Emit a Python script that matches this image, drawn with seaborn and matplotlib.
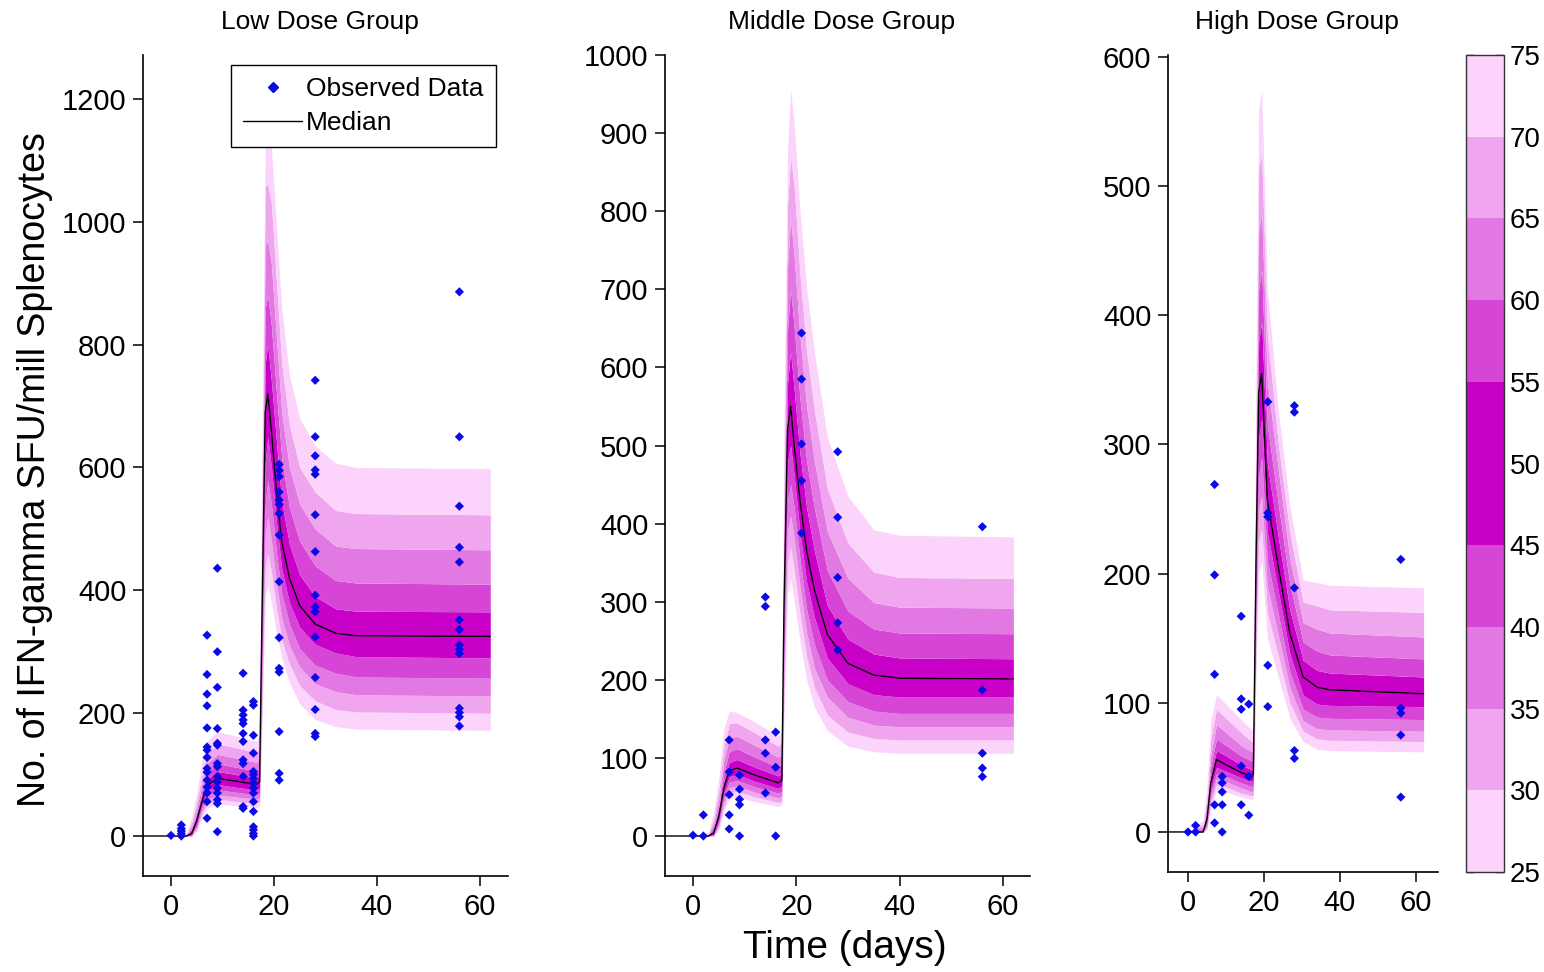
import numpy as np
import pandas as pd
import matplotlib
matplotlib.use("Agg")
import matplotlib.pyplot as plt
import seaborn as sns
from matplotlib.colors import ListedColormap, BoundaryNorm
from matplotlib.lines import Line2D
from matplotlib.colorbar import ColorbarBase

sns.set_style("ticks")
plt.rcParams['font.family'] = ['Liberation Sans', 'DejaVu Sans']
for key in ['text.color', 'axes.labelcolor', 'xtick.color', 'ytick.color', 'axes.edgecolor']:
    plt.rcParams[key] = 'black'

# ---------------- data ----------------
# columns: percentile edges 25,30,35,40,45,50(median),55,60,65,70,75
edge_levels = [25, 30, 35, 40, 45, 50, 55, 60, 65, 70, 75]
band_colors = ['#FBD3FB', '#EFA6EF', '#E279E2', '#D645D6', '#C800C8',
               '#C800C8', '#D645D6', '#E279E2', '#EFA6EF', '#FBD3FB']

low_t = [-6, 0, 3, 4, 5, 6, 7, 9, 12, 16.6, 17.2, 17.6, 18.3, 18.8, 19.5,
         20.5, 21.5, 23, 25, 28, 32, 36, 62]
low_edges = [
    [0, 0, 0, 0, 0, 0, 0, 0, 0, 0, 0],
    [0, 0, 0, 0, 0, 0, 0, 0, 0, 0, 0],
    [0, 0, 0, 0, 0, 0, 0, 1, 2, 3, 5],
    [0, 0, 0, 1, 2, 4, 7, 11, 16, 22, 30],
    [8, 11, 14, 17, 21, 25, 30, 37, 45, 56, 70],
    [30, 36, 41, 46, 51, 56, 63, 72, 84, 100, 122],
    [45, 52, 58, 65, 73, 82, 92, 104, 118, 135, 155],
    [52, 60, 67, 75, 84, 94, 105, 118, 133, 150, 170],
    [50, 57, 64, 72, 80, 90, 101, 113, 128, 145, 164],
    [46, 53, 60, 67, 75, 84, 94, 106, 120, 136, 154],
    [48, 55, 62, 70, 78, 88, 99, 112, 127, 144, 165],
    [150, 180, 210, 245, 280, 320, 360, 410, 470, 530, 600],
    [390, 440, 490, 540, 610, 690, 770, 860, 960, 1060, 1120],
    [410, 460, 520, 580, 650, 720, 800, 880, 970, 1060, 1150],
    [380, 430, 480, 540, 600, 660, 740, 830, 930, 1030, 1120],
    [330, 370, 410, 460, 510, 560, 640, 720, 810, 900, 990],
    [290, 320, 355, 395, 435, 480, 545, 615, 690, 770, 860],
    [250, 280, 310, 345, 380, 420, 475, 535, 600, 670, 750],
    [215, 245, 275, 305, 340, 375, 425, 480, 540, 600, 680],
    [190, 220, 248, 278, 312, 345, 390, 440, 500, 560, 635],
    [178, 206, 235, 265, 298, 330, 370, 416, 472, 530, 607],
    [174, 202, 230, 259, 292, 326, 366, 412, 468, 525, 600],
    [172, 200, 228, 257, 290, 325, 365, 410, 466, 523, 598],
]

mid_t = [-6, 0, 3, 4, 5, 6, 7, 8.5, 12, 16.5, 17.2, 17.6, 18.3, 18.9, 19.6,
         20.7, 22, 23.5, 26, 30, 35, 40, 62]
mid_edges = [
    [0, 0, 0, 0, 0, 0, 0, 0, 0, 0, 0],
    [0, 0, 0, 0, 0, 0, 0, 0, 0, 0, 0],
    [0, 0, 0, 0, 0, 0, 0, 1, 2, 3, 5],
    [0, 0, 0, 1, 2, 4, 7, 11, 16, 22, 30],
    [8, 11, 14, 17, 21, 25, 30, 38, 48, 60, 75],
    [32, 38, 44, 50, 56, 62, 70, 82, 97, 115, 138],
    [48, 55, 62, 69, 76, 83, 94, 108, 125, 144, 160],
    [50, 57, 64, 71, 79, 87, 98, 112, 128, 145, 158],
    [44, 50, 56, 63, 70, 78, 88, 101, 116, 132, 146],
    [38, 43, 49, 55, 61, 68, 77, 88, 101, 115, 128],
    [40, 45, 51, 57, 64, 71, 80, 92, 105, 120, 134],
    [150, 175, 200, 230, 260, 290, 325, 365, 410, 460, 520],
    [310, 350, 390, 430, 480, 520, 580, 650, 730, 810, 880],
    [330, 370, 410, 450, 500, 550, 620, 700, 790, 870, 955],
    [300, 340, 380, 420, 460, 500, 570, 650, 740, 830, 910],
    [250, 285, 320, 355, 390, 430, 490, 560, 640, 720, 800],
    [200, 230, 260, 290, 325, 365, 420, 480, 550, 620, 700],
    [165, 190, 215, 245, 280, 315, 365, 420, 480, 545, 620],
    [135, 155, 178, 200, 228, 258, 295, 340, 390, 445, 510],
    [115, 133, 152, 172, 195, 221, 252, 288, 330, 375, 435],
    [108, 125, 142, 160, 181, 206, 233, 265, 299, 338, 392],
    [106, 123, 140, 157, 178, 202, 228, 260, 293, 331, 385],
    [106, 123, 140, 157, 178, 201, 227, 259, 292, 330, 383],
]

high_t = [-6, 0, 4, 5, 6, 7.5, 10, 14, 16.8, 17.2, 17.9, 18.6, 19.4, 20.9,
          23.8, 26.8, 30.3, 34, 37.4, 62]
high_edges = [
    [0, 0, 0, 0, 0, 0, 0, 0, 0, 0, 0],
    [0, 0, 0, 0, 0, 0, 0, 0, 0, 0, 0],
    [0, 0, 0, 0, 0, 0, 1, 2, 4, 6, 9],
    [2, 3, 4, 6, 8, 10, 13, 17, 22, 28, 36],
    [18, 22, 26, 30, 34, 38, 44, 51, 60, 72, 86],
    [33, 37, 41, 45, 50, 56, 63, 72, 83, 95, 106],
    [31, 35, 39, 43, 47, 52, 59, 67, 77, 88, 99],
    [27, 30, 34, 38, 42, 46, 52, 59, 67, 77, 87],
    [25, 28, 31, 35, 39, 43, 48, 55, 62, 70, 79],
    [26, 29, 33, 37, 41, 45, 51, 58, 66, 75, 84],
    [120, 135, 150, 170, 190, 210, 235, 260, 290, 320, 350],
    [200, 225, 250, 275, 305, 340, 380, 420, 465, 515, 560],
    [210, 235, 260, 290, 320, 355, 395, 435, 480, 525, 574],
    [150, 170, 190, 210, 232, 257, 285, 315, 348, 385, 420],
    [120, 136, 152, 168, 186, 205, 228, 253, 280, 300, 325],
    [88, 100, 112, 124, 138, 154, 172, 192, 212, 232, 252],
    [70, 78, 86, 95, 106, 120, 133, 147, 162, 178, 195],
    [64, 72, 80, 89, 99, 112, 125, 140, 157, 175, 193],
    [63, 71, 79, 88, 98, 110, 123, 137, 154, 172, 191],
    [62, 70, 78, 87, 97, 107, 120, 134, 151, 170, 189],
]

# observed data: study day -> values
low_obs = {
    0: [1],
    2: [18, 12, 8, 4, 0],
    7: [327, 263, 231, 212, 176, 145, 140, 128, 110, 104, 91, 80, 70, 56, 29],
    9: [436, 300, 242, 175, 151, 148, 118, 113, 97, 88, 78, 70, 59, 53, 7],
    14: [265, 205, 197, 189, 183, 167, 154, 124, 118, 97, 48, 45],
    16: [219, 213, 164, 135, 105, 100, 94, 86, 78, 70, 56, 40, 15, 10, 4, 0],
    21: [605, 595, 585, 560, 547, 540, 525, 490, 414, 323, 273, 267, 170, 102, 91],
    28: [742, 650, 619, 596, 589, 523, 463, 392, 373, 365, 324, 258, 206, 167, 162],
    56: [886, 650, 537, 470, 446, 352, 336, 311, 304, 297, 208, 201, 194, 179],
}
mid_obs = {
    0: [1],
    2: [27, 0],
    7: [123, 82, 53, 27, 9],
    9: [78, 60, 47, 40, 0],
    14: [306, 294, 123, 106, 55],
    16: [133, 88, 0],
    21: [644, 585, 502, 455, 388],
    28: [492, 408, 331, 273, 238],
    56: [396, 187, 106, 87, 76],
}
high_obs = {
    0: [0],
    2: [5, 0],
    7: [269, 199, 122, 21, 7],
    9: [43, 38, 31, 21, 0],
    14: [167, 103, 95, 51, 21],
    16: [99, 43, 13],
    21: [333, 247, 244, 129, 97],
    28: [330, 325, 189, 63, 57],
    56: [211, 96, 92, 75, 27],
}

titles = ["Low Dose Group", "Middle Dose Group", "High Dose Group"]
y_ticks = [np.arange(0, 1201, 200), np.arange(0, 1001, 100), np.arange(0, 601, 100)]
x_ticks = [0, 20, 40, 60]
cbar_ticks = [25, 30, 35, 40, 45, 50, 55, 60, 65, 70, 75]

# ---------------- figure ----------------
W, H = 1544, 972
fig = plt.figure(figsize=(W / 100, H / 100), dpi=100)


def px_axes(l, t, r, b):
    return fig.add_axes([l / W, 1 - b / H, (r - l) / W, (b - t) / H])


axes = [px_axes(143, 55, 508, 876), px_axes(665, 55, 1030, 876), px_axes(1168, 55, 1438, 872)]
xlims = [(-5.44, 65.44), (-5.42, 65.22), (-5.26, 65.79)]
ylims = [(-65.1, 1271.6), (-51.2, 1000), (-31.0, 601.5)]
title_x = [320, 842, 1297]

obs_color = '#0A0AE6'
datasets = [(low_t, low_edges, low_obs), (mid_t, mid_edges, mid_obs), (high_t, high_edges, high_obs)]

for i, (ax, (tt, edges, obs)) in enumerate(zip(axes, datasets)):
    tt = np.asarray(tt, float)
    E = np.asarray(edges, float)
    for k in range(len(edge_levels) - 1):
        ax.fill_between(tt, E[:, k], E[:, k + 1], color=band_colors[k], lw=0, zorder=1)
    med_df = pd.DataFrame({'t': tt, 'v': E[:, 5]})
    sns.lineplot(data=med_df, x='t', y='v', ax=ax, color='black', lw=1.0,
                 estimator=None, sort=False, zorder=3)
    days, vals = [], []
    for d, vs in obs.items():
        days += [d] * len(vs)
        vals += vs
    obs_df = pd.DataFrame({'day': days, 'value': vals})
    sns.scatterplot(data=obs_df, x='day', y='value', ax=ax, marker='D', s=22,
                    color=obs_color, edgecolor='none', zorder=5)
    ax.set_xlim(*xlims[i])
    ax.set_ylim(*ylims[i])
    ax.set_xticks(x_ticks)
    ax.set_yticks(y_ticks[i])
    ax.set_xlabel('')
    ax.set_ylabel('')
    sns.despine(ax=ax)
    for s in ['left', 'bottom']:
        ax.spines[s].set_linewidth(1.2)
        ax.spines[s].set_color('black')
    ax.tick_params(axis='both', direction='out', length=7, width=1.1, labelsize=21, pad=5,
                   color='black', labelcolor='black')
    fig.text(title_x[i] / W, 1 - 22 / H, titles[i], ha='center', va='center', fontsize=19,
             color='black')

# legend
handles = [Line2D([], [], marker='D', ls='none', color=obs_color, markersize=5),
           Line2D([], [], color='black', lw=1)]
leg = axes[0].legend(handles, ['Observed Data', 'Median'], loc='upper left',
                     bbox_to_anchor=(231 / W, 1 - 65 / H), bbox_transform=fig.transFigure,
                     fontsize=19, frameon=True, fancybox=False, framealpha=1,
                     edgecolor='black', handlelength=2.25, handletextpad=0.15,
                     borderpad=0.45, labelspacing=0.4, borderaxespad=0)
leg.get_frame().set_linewidth(1.0)
leg.set_zorder(10)
for txt in leg.get_texts():
    txt.set_color('black')

# colorbar
cax = px_axes(1466, 55, 1504, 872)
cmap = ListedColormap(band_colors)
norm = BoundaryNorm(cbar_ticks, cmap.N)
cb = ColorbarBase(cax, cmap=cmap, norm=norm, boundaries=cbar_ticks, ticks=cbar_ticks,
                  orientation='vertical')
cb.outline.set_linewidth(1.0)
cb.outline.set_edgecolor('#333333')
cax.tick_params(axis='y', direction='in', length=6, width=1, left=True, right=True,
                labelsize=20, pad=4, colors='black')
cax.set_yticklabels([str(v) for v in cbar_ticks])

# axis labels
fig.text(35 / W, 1 - 470 / H, 'No. of IFN-gamma SFU/mill Splenocytes', rotation=90,
         ha='center', va='center', fontsize=27, color='black')
fig.text(845 / W, 1 - 948 / H, 'Time (days)', ha='center', va='center', fontsize=28,
         color='black')

fig.savefig('out.png', dpi=100, facecolor='white')
